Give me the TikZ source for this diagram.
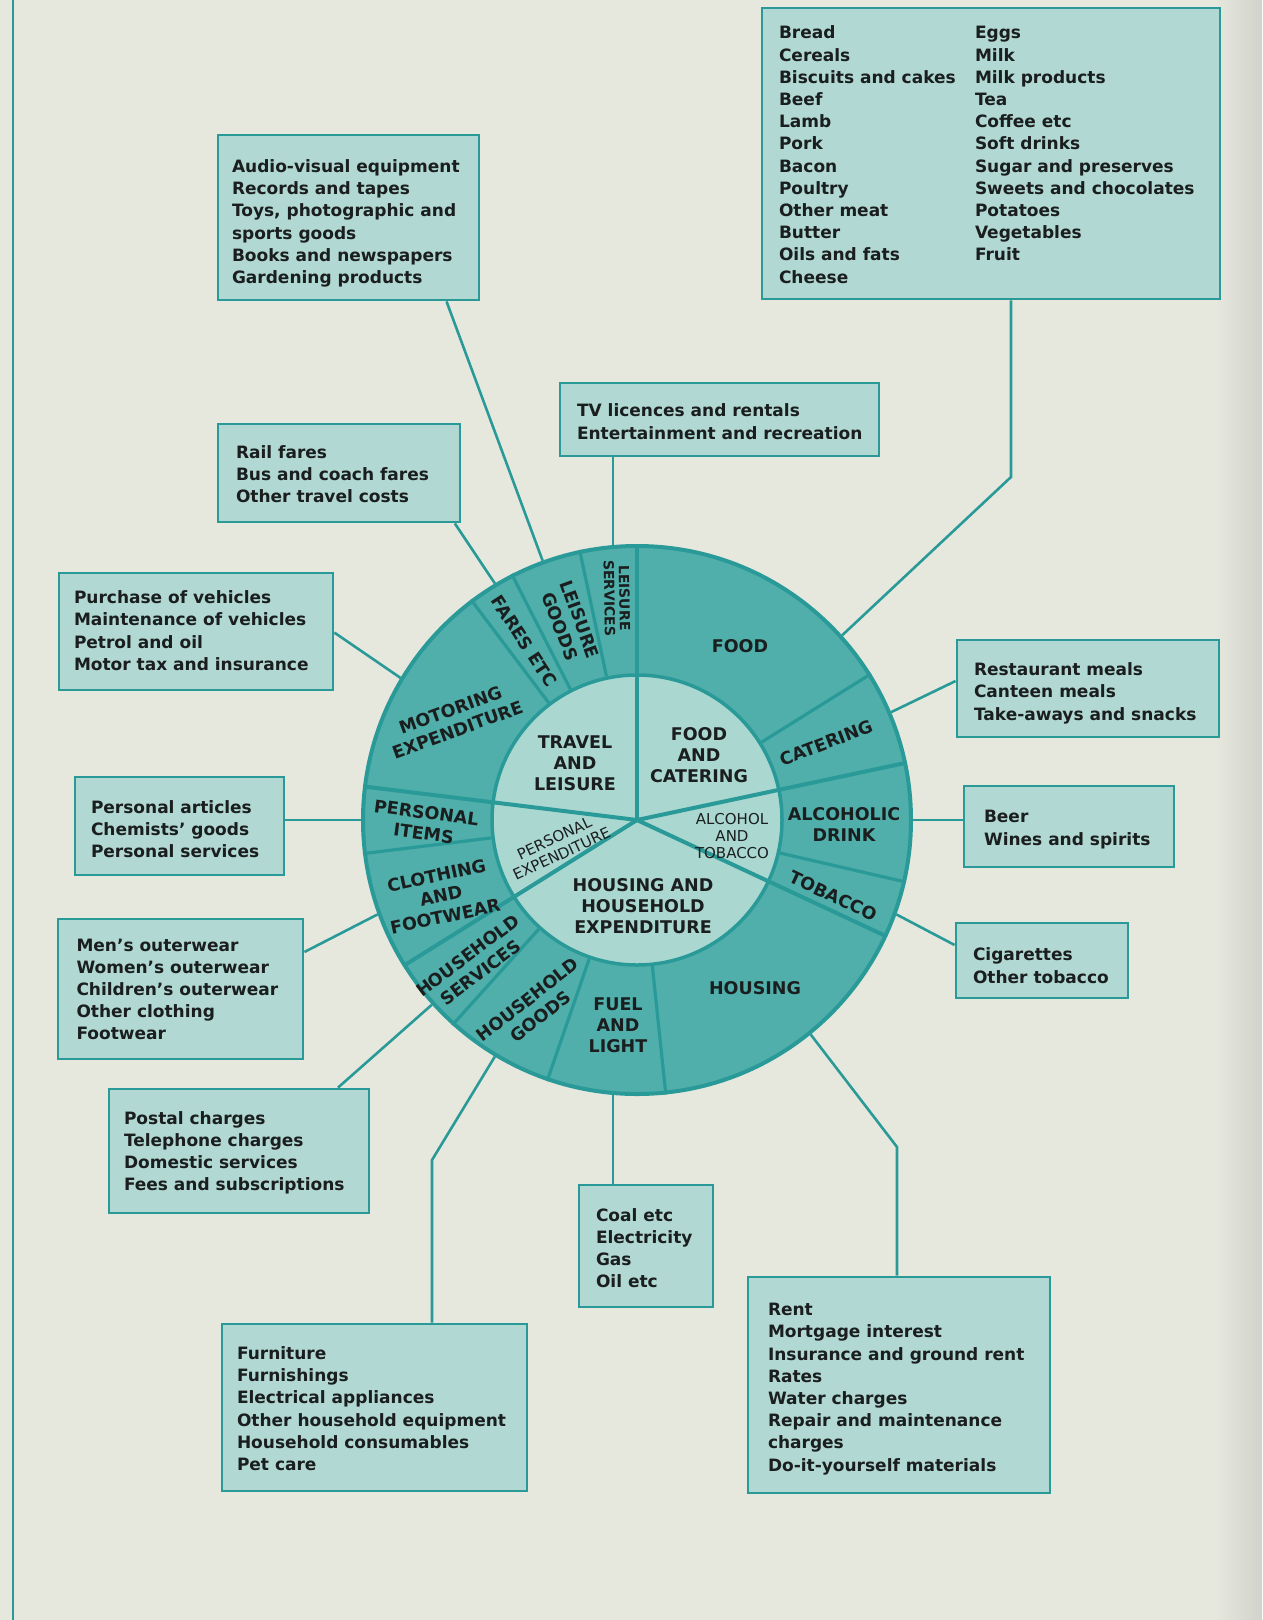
\documentclass[tikz,border=0pt]{standalone}
\usepackage{fontspec}
\setmainfont{DejaVu Sans}
\definecolor{bg}{HTML}{E6E8DE}
\definecolor{boxfill}{HTML}{B1D8D2}
\definecolor{teal1}{HTML}{2A9A98}
\definecolor{ring}{HTML}{50AFAA}
\definecolor{hubc}{HTML}{AAD7D0}
\definecolor{ink}{HTML}{1A1E1E}
\newcommand\bxfont{\fontsize{17}{22.2}\selectfont\bfseries}
\newcommand\boxtxt[3][3]{\raisebox{-#1pt}[\height][\depth]{\makebox[#2pt][l]{\begin{tabular}{@{}l@{}}#3\end{tabular}}}}
\begin{document}
\begin{tikzpicture}[x=1pt,y=1pt,
  box/.style={draw=teal1, fill=boxfill, line width=2.8pt, inner sep=0pt, text=ink, font=\bxfont},
  conn/.style={draw=teal1, line width=2.6pt},
  divider/.style={draw=teal1, line width=4pt, line cap=round, shorten >=2pt},
  subdiv/.style={draw=teal1, line width=3.2pt},
  lab/.style={text=ink, font=\fontsize{17.5}{21}\selectfont\bfseries, align=center, inner sep=0pt},
  slab/.style={lab, font=\fontsize{14}{15}\selectfont\bfseries},
  tlab/.style={lab, font=\fontsize{15}{17}\selectfont}]
\useasboundingbox (0,0) rectangle (1262,-1620);
\fill[bg] (0,0) rectangle (1262,-1620);
\shade[left color=bg, right color=bg!80!gray] (1215,0) rectangle (1262,-1620);
\draw[teal1, line width=1.8pt] (13.3,0) -- (13.3,-1620);

% ---------- wheel ----------
\node[circle, minimum size=548pt, inner sep=0pt, fill=ring, draw=teal1, line width=4pt] (wheel) at (637,-820) {};
\node[circle, minimum size=290pt, inner sep=0pt, fill=hubc, draw=teal1, line width=3.5pt] (hub) at (wheel.center) {};
\foreach \a in {90,12.7,-25.9,212.7,173.3}
  \draw[divider] (wheel.center) -- (wheel.\a);
\foreach \a in {32,-13,-84.5,251.5,228.5,187.5,127,117.5,102.5}
  \draw[subdiv] (hub.\a) -- (wheel.\a);

% outer ring labels
\node[lab] (l-food) at (740,-646) {FOOD};
\node[lab, rotate=21] (l-cat) at (826,-743) {CATERING};
\node[lab] (l-alc) at (844,-824) {ALCOHOLIC\\DRINK};
\node[lab, rotate=-25] (l-tob) at (833,-896) {TOBACCO};
\node[lab] (l-hous) at (755,-988) {HOUSING};
\node[lab] (l-fuel) at (618,-1025) {FUEL\\AND\\LIGHT};
\node[lab, rotate=38] (l-hg) at (534,-1008) {HOUSEHOLD\\GOODS};
\node[lab, rotate=37] (l-hs) at (474,-964) {HOUSEHOLD\\SERVICES};
\node[lab, rotate=12] (l-cloth) at (441,-896) {CLOTHING\\AND\\FOOTWEAR};
\node[lab, rotate=-7.5] (l-pi) at (425,-823) {PERSONAL\\ITEMS};
\node[lab, rotate=20] (l-mot) at (454,-720) {MOTORING\\EXPENDITURE};
\node[lab, rotate=-57] (l-fares) at (524,-641) {FARES ETC};
\node[lab, rotate=-70] (l-lg) at (570,-623) {LEISURE\\GOODS};
\node[slab, rotate=-89] (l-ls) at (617,-598) {LEISURE\\SERVICES};

% inner labels
\node[lab] (i-tl) at (575,-763) {TRAVEL\\AND\\LEISURE};
\node[lab] (i-fc) at (699,-755) {FOOD\\AND\\CATERING};
\node[tlab] (i-at) at (732,-836) {ALCOHOL\\AND\\TOBACCO};
\node[tlab, rotate=25] (i-pe) at (558,-846) {PERSONAL\\EXPENDITURE};
\node[lab] (i-hh) at (643,-906) {HOUSING AND\\HOUSEHOLD\\EXPENDITURE};

% ---------- boxes ----------
\node[box, minimum width=458pt, minimum height=291pt] (food) at (991,-153.5)
  {\raisebox{-3pt}[\height][\depth]{\makebox[424pt][l]{\begin{tabular}{@{}p{196pt}@{}l@{}}
  Bread & Eggs\\ Cereals & Milk\\ Biscuits and cakes & Milk products\\ Beef & Tea\\
  Lamb & Coffee etc\\ Pork & Soft drinks\\ Bacon & Sugar and preserves\\
  Poultry & Sweets and chocolates\\ Other meat & Potatoes\\ Butter & Vegetables\\
  Oils and fats & Fruit\\ Cheese & \end{tabular}}}};
\node[box, minimum width=261pt, minimum height=165pt] (av) at (348.5,-217.5)
  {\boxtxt[6]{233}{Audio-visual equipment\\ Records and tapes\\ Toys, photographic and\\ sports goods\\ Books and newspapers\\ Gardening products}};
\node[box, minimum width=319pt, minimum height=73pt] (tv) at (719.5,-419.5)
  {\boxtxt[4]{285}{TV licences and rentals\\ Entertainment and recreation}};
\node[box, minimum width=242pt, minimum height=98pt] (rail) at (339,-473)
  {\boxtxt{206}{Rail fares\\ Bus and coach fares\\ Other travel costs}};
\node[box, minimum width=274pt, minimum height=117pt] (purch) at (196,-631.5)
  {\boxtxt[1]{244}{Purchase of vehicles\\ Maintenance of vehicles\\ Petrol and oil\\ Motor tax and insurance}};
\node[box, minimum width=262pt, minimum height=97pt] (rest) at (1088,-688.5)
  {\boxtxt[5]{228}{Restaurant meals\\ Canteen meals\\ Take-aways and snacks}};
\node[box, minimum width=209pt, minimum height=98pt] (pers) at (179.5,-826)
  {\boxtxt[5]{177}{Personal articles\\ Chemists’ goods\\ Personal services}};
\node[box, minimum width=210pt, minimum height=81pt] (beer) at (1069,-826.5)
  {\boxtxt{170}{Beer\\ Wines and spirits}};
\node[box, minimum width=245pt, minimum height=140pt] (mens) at (180.5,-989)
  {\boxtxt[2]{208}{Men’s outerwear\\ Women’s outerwear\\ Children’s outerwear\\ Other clothing\\ Footwear}};
\node[box, minimum width=172pt, minimum height=75pt] (cig) at (1042,-960.5)
  {\boxtxt[7]{138}{Cigarettes\\ Other tobacco}};
\node[box, minimum width=260pt, minimum height=124pt] (postal) at (239,-1151)
  {\boxtxt[2]{230}{Postal charges\\ Telephone charges\\ Domestic services\\ Fees and subscriptions}};
\node[box, minimum width=134pt, minimum height=122pt] (coal) at (646,-1246)
  {\boxtxt[4]{100}{Coal etc\\ Electricity\\ Gas\\ Oil etc}};
\node[box, minimum width=305pt, minimum height=167pt] (furn) at (374.5,-1407.5)
  {\boxtxt{275}{Furniture\\ Furnishings\\ Electrical appliances\\ Other household equipment\\ Household consumables\\ Pet care}};
\node[box, minimum width=302pt, minimum height=216pt] (rent) at (899,-1385)
  {\boxtxt[4]{262}{Rent\\ Mortgage interest\\ Insurance and ground rent\\ Rates\\ Water charges\\ Repair and maintenance\\ charges\\ Do-it-yourself materials}};

% ---------- connectors ----------
\coordinate (foodbend) at (1011,-477);
\coordinate (furnbend) at (432,-1160);
\coordinate (rentbend) at (897,-1147);
\draw[conn] (wheel.42.4) -- (foodbend) -- (foodbend |- food.south);
\draw[conn] (wheel.110.3) -- (446.5,0 |- av.south);
\draw[conn] (wheel.95.2) -- (wheel.95.2 |- tv.south);
\draw[conn] (wheel.121.5) -- (454.8,0 |- rail.south);
\draw[conn] (wheel.149.5) -- (purch.east |- 0,-632.6);
\draw[conn] (wheel.23.2) -- (rest.west |- 0,-681);
\draw[conn] (wheel.180) -- (wheel.180 -| pers.east);
\draw[conn] (wheel.0) -- (wheel.0 -| beer.west);
\draw[conn] (wheel.200.8) -- (mens.east |- 0,-952);
\draw[conn] (wheel.-20.3) -- (cig.west |- 0,-945);
\draw[conn] (wheel.222.1) -- (338,0 |- postal.north);
\draw[conn] (wheel.-95.2) -- (wheel.-95.2 |- coal.north);
\draw[conn] (wheel.239.2) -- (furnbend) -- (furnbend |- furn.north);
\draw[conn] (wheel.-51.1) -- (rentbend) -- (rentbend |- rent.north);
\end{tikzpicture}
\end{document}
